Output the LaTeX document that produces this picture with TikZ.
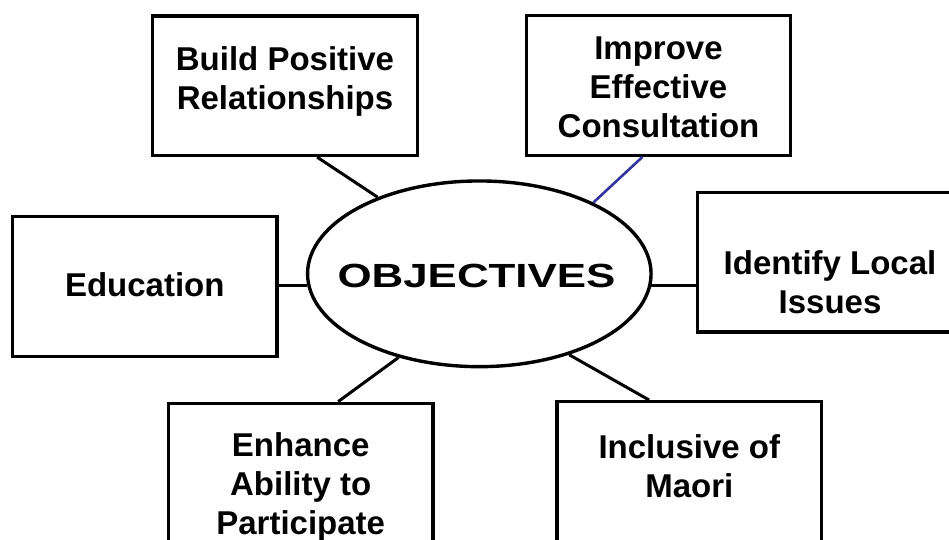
\documentclass[tikz,border=0pt]{standalone}
\usepackage{fontspec}
\setmainfont{Liberation Sans}
\usepackage{graphicx}
\usetikzlibrary{shapes.geometric,calc}
\definecolor{linkblue}{RGB}{51,51,160}
\begin{document}
\begin{tikzpicture}[x=1pt,y=-1pt,
  box/.style={draw,line width=3.4pt,rectangle,minimum width=264.5pt,minimum height=139.5pt,inner sep=0pt},
  lbl/.style={font=\fontsize{33}{39}\selectfont\bfseries,align=center,inner sep=0pt},
  link/.style={line width=3pt}]
\useasboundingbox (0,0) rectangle (949,539);
\clip (0,0) rectangle (949,539);
\fill[white] (0,0) rectangle (949,539);
% boxes
\node[box] (b1) at (285,85.7) {};
\node[box] (b2) at (658.5,85.5) {};
\node[box] (b3) at (144.8,286.5) {};
\node[box] (b4) at (829.5,262.4) {};
\node[box] (b5) at (300.7,473) {};
\node[box] (b6) at (689.3,471.5) {};
% centre ellipse
\node[draw,ellipse,line width=3.4pt,minimum width=343.5pt,minimum height=185.7pt,inner sep=0pt] (obj) at (479.3,273.8) {};
% texts
\node[lbl] (t1) at (285,81) {Build Positive\\Relationships};
\node[lbl] (t2) at (658.5,87.5) {Improve\\Effective\\Consultation};
\node[lbl] (t3) at (144.8,285) {Education};
\node[lbl] (t4) at (830,282) {Identify Local\\Issues};
\node[lbl] (t5) at (300.7,486.5) {Enhance\\Ability to\\Participate};
\node[lbl] (t6) at (689.3,466) {Inclusive of\\Maori};
\node[font=\fontsize{33.5}{40}\selectfont\bfseries,inner sep=0pt] (t0) at (476.5,275.5) {\scalebox{1.31}[1]{OBJECTIVES}};
% connectors
\draw[link] ($(b1.south west)!0.62!(b1.south east)$) -- (obj.143.6);
\draw[link,linkblue,line width=2.6pt] ($(b2.south west)!0.44!(b2.south east)$) -- (obj.32.4);
\draw[link] (obj.184.5) -- (obj.184.5 -| b3.east);
\draw[link] (obj.356.2) -- (obj.356.2 -| b4.west);
\draw[link] ($(b5.north west)!0.64!(b5.north east)$) -- (obj.226.4);
\draw[link] ($(b6.north west)!0.35!(b6.north east)$) -- (obj.318.6);
\end{tikzpicture}
\end{document}
